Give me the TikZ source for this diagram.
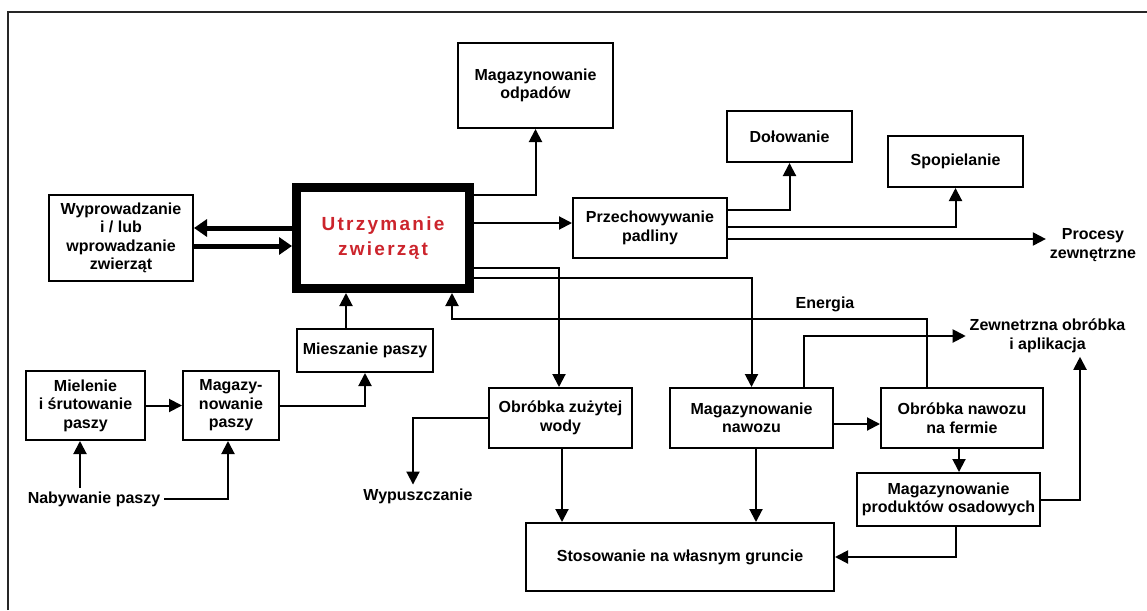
\documentclass[tikz,border=0pt]{standalone}
\usepackage{fontspec}
\setmainfont{Liberation Sans}
\newfontfamily\spacedsans[LetterSpace=12]{Liberation Sans}
\usetikzlibrary{arrows.meta}
\definecolor{utrzred}{RGB}{204,36,44}

\begin{document}
\begin{tikzpicture}[x=1pt,y=-1pt,line width=2pt,>={Triangle[length=13pt,width=13pt]},
  box/.style={draw,inner sep=0pt,align=center,font=\fontsize{16}{18.5}\selectfont\bfseries},
  lbl/.style={inner sep=3pt,align=center,font=\fontsize{16}{18.5}\selectfont\bfseries},
  mainbox/.style={draw,line width=9pt,inner sep=0pt,align=center,text=utrzred,
    font=\spacedsans\fontsize{19}{25}\selectfont\bfseries},
  fat/.style={line width=5pt,-{Triangle[length=13pt,width=17pt]}}]
\useasboundingbox (0,0) rectangle (1147,610);
\draw[line width=2pt,black!85] (8,610) -- (8,12) -- (1147,12);

\node[mainbox,minimum width=173,minimum height=101] (utrzym) at (383,238) {Utrzymanie\\zwierząt};
\node[box,minimum width=144,minimum height=86] (wyprow) at (121,238) {Wyprowadzanie\\i / lub\\wprowadzanie\\zwierząt};
\node[box,minimum width=155,minimum height=85] (odpady) at (535.5,85.5) {Magazynowanie\\odpadów};
\node[box,minimum width=154,minimum height=60] (padlina) at (650,228) {Przechowywanie\\padliny};
\node[box,minimum width=125,minimum height=51] (dolowanie) at (789.5,136.5) {Dołowanie};
\node[box,minimum width=135,minimum height=51] (spopielanie) at (955.5,161.5) {Spopielanie};
\node[lbl] (procesy) at (1093,245) {Procesy\\zewnętrzne};
\node[box,minimum width=136,minimum height=43] (mieszanie) at (365,350.5) {Mieszanie paszy};
\node[box,minimum width=119,minimum height=69] (mielenie) at (85.5,405.5) {Mielenie\\i śrutowanie\\paszy};
\node[box,minimum width=96,minimum height=69] (magpasza) at (231,405.5) {Magazy-\\nowanie\\paszy};
\node[lbl] (nabywanie) at (94,499) {Nabywanie paszy};
\node[box,minimum width=143,minimum height=60] (scieki) at (560.5,418) {Obróbka zużytej\\wody};
\node[lbl] (wypuszcz) at (418,496) {Wypuszczanie};
\node[box,minimum width=163,minimum height=60] (magnawoz) at (751.5,418) {Magazynowanie\\nawozu};
\node[box,minimum width=162,minimum height=60] (obrnawoz) at (962,418) {Obróbka nawozu\\na fermie};
\node[box,minimum width=183,minimum height=53] (osady) at (948.5,499.5) {Magazynowanie\\produktów osadowych};
\node[box,minimum width=308,minimum height=68] (stosowanie) at (680,557) {Stosowanie na własnym gruncie};
\node[lbl] (zewn) at (1047.5,336) {Zewnetrzna obróbka\\i aplikacja};
\node[lbl] (energia) at (825,304) {Energia};

\draw[fat] ([yshift=10pt]utrzym.west) -- ([yshift=10pt]wyprow.east);
\draw[fat] ([yshift=-8pt]wyprow.east) -- ([yshift=-8pt]utrzym.west);
\draw[->] ([yshift=43pt]utrzym.east) -| (odpady.south);
\draw[->] ([yshift=15pt]utrzym.east) -- ([yshift=15pt]utrzym.east -| padlina.west);
\draw[->] ([yshift=18pt]padlina.east) -| (dolowanie.south);
\draw[->] ([yshift=1pt]padlina.east) -| (spopielanie.south);
\draw[->] ([yshift=-11pt]padlina.east) -- ([yshift=-11pt]padlina.east -| procesy.west);
\draw[->] ([yshift=-30pt]utrzym.east) -| ([xshift=-1.5pt]scieki.north);
\draw[->] ([yshift=-40pt]utrzym.east) -| (magnawoz.north);
\draw[->] ([xshift=-35pt]obrnawoz.north) -- ++(0,-68) -| ([xshift=69pt]utrzym.south);
\draw[->] ([xshift=-19pt]mieszanie.north) -- ([xshift=-19pt]mieszanie.north |- utrzym.south);
\draw[->] (mielenie.east) -- (magpasza.west);
\draw[->] (magpasza.east) -| (mieszanie.south);
\draw[->] ([xshift=-14pt]nabywanie.north) -- ([xshift=-14pt]nabywanie.north |- mielenie.south);
\draw[->] (nabywanie.east) -| ([xshift=-3pt]magpasza.south);
\draw[->] (scieki.west) -| ([xshift=-5pt]wypuszcz.north);
\draw[->] ([xshift=1.5pt]scieki.south) -- ([xshift=1.5pt]scieki.south |- stosowanie.north);
\draw[->] ([xshift=4.5pt]magnawoz.south) -- ([xshift=4.5pt]magnawoz.south |- stosowanie.north);
\draw[->] ([xshift=52.5pt]magnawoz.north) |- (zewn.west);
\draw[->] ([yshift=-6pt]magnawoz.east) -- ([yshift=-6pt]magnawoz.east -| obrnawoz.west);
\draw[->] ([xshift=-3pt]obrnawoz.south) -- ([xshift=-3pt]obrnawoz.south |- osady.north);
\draw[->] (osady.east) -| ([xshift=32.5pt]zewn.south);
\draw[->] ([xshift=7.5pt]osady.south) |- (stosowanie.east);
\end{tikzpicture}
\end{document}
